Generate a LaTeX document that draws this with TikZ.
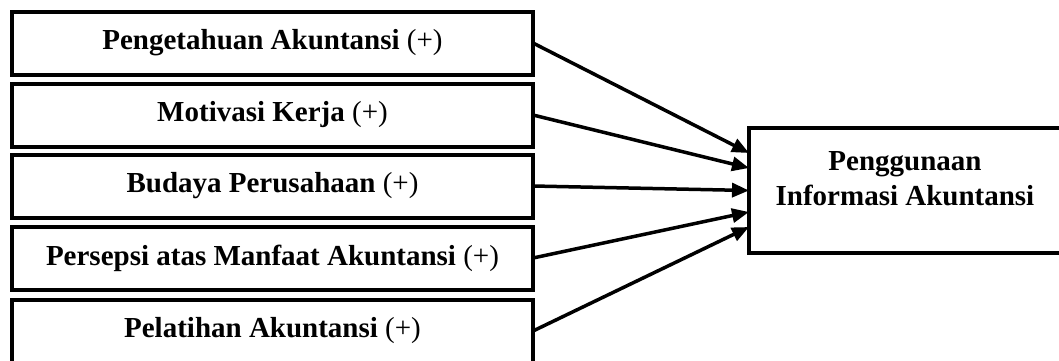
\documentclass[tikz,border=0pt]{standalone}
\usepackage{fontspec}
\setmainfont{Liberation Serif}
\usetikzlibrary{arrows.meta}
\begin{document}
\begin{tikzpicture}[x=1pt,y=-1pt,
  lbox/.style={draw,line width=4pt,minimum width=521pt,minimum height=63pt,inner sep=0pt,outer sep=0pt,
    font=\fontsize{29}{35}\selectfont\bfseries},
  rbox/.style={draw,line width=4pt,minimum width=312pt,minimum height=125pt,inner sep=0pt,outer sep=0pt,
    font=\fontsize{29}{35}\selectfont\bfseries},
  conn/.style={line width=3.5pt,-{Triangle[length=17pt,width=14pt]}}]
\useasboundingbox (0,0) rectangle (1059,360);
\clip (0,0) rectangle (1059,360);
\fill[white] (0,0) rectangle (1059,360);
\node[lbox] (b1) at (272.5,43) {Pengetahuan Akuntansi \textmd{(+)}};
\node[lbox] (b2) at (272.5,115) {Motivasi Kerja \textmd{(+)}};
\node[lbox] (b3) at (272.5,186) {Budaya Perusahaan \textmd{(+)}};
\node[lbox] (b4) at (272.5,258) {Persepsi atas Manfaat Akuntansi \textmd{(+)}};
\node[lbox] (b5) at (272.5,331) {Pelatihan Akuntansi \textmd{(+)}};
\node[rbox] (r) at (905,190.5) {\raisebox{3pt}[0pt][0pt]{\begin{tabular}{@{}c@{}}Penggunaan\\Informasi Akuntansi\end{tabular}}};
\draw[conn] (b1.east) -- ([yshift=37.5pt]r.west);
\draw[conn] (b2.east) -- ([yshift=22.5pt]r.west);
\draw[conn] (b3.east) -- ([yshift=0pt]r.west);
\draw[conn] (b4.east) -- ([yshift=-21.5pt]r.west);
\draw[conn] (b5.east) -- ([yshift=-36.5pt]r.west);
\end{tikzpicture}
\end{document}
